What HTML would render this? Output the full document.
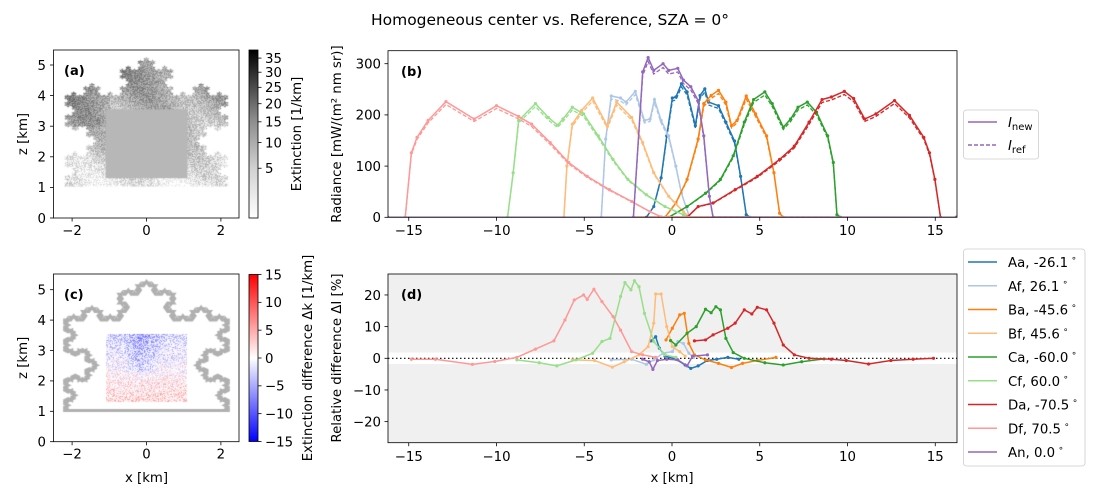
<!DOCTYPE html>
<html><head><meta charset="utf-8">
<style>
html,body{margin:0;padding:0;background:#fff;}
#wrap{position:relative;width:1100px;height:500px;overflow:hidden;font-family:"DejaVu Sans","Liberation Sans",sans-serif;}
canvas{position:absolute;}
svg{position:absolute;left:0;top:0;}
text{font-family:"DejaVu Sans","Liberation Sans",sans-serif;fill:#000;}
</style></head>
<body>
<div id="wrap">
<canvas id="ca" width="185" height="168" style="left:54px;top:50px"></canvas>
<canvas id="cc" width="185" height="168" style="left:54px;top:274px"></canvas>
<svg id="svg" width="1100" height="500" viewBox="0 0 1100 500">
<defs>
<linearGradient id="gGray" x1="0" y1="1" x2="0" y2="0">
<stop offset="0" stop-color="#fff"/><stop offset="0.3" stop-color="#d0d0d0"/><stop offset="0.6" stop-color="#888"/><stop offset="1" stop-color="#000"/>
</linearGradient>
<linearGradient id="gBwr" x1="0" y1="1" x2="0" y2="0">
<stop offset="0" stop-color="#0000ff"/><stop offset="0.5" stop-color="#ffffff"/><stop offset="1" stop-color="#ff0000"/>
</linearGradient>
<clipPath id="clipB"><rect x="388" y="50.7" width="569" height="166.6"/></clipPath>
<clipPath id="clipD"><rect x="388" y="274" width="569" height="168.7"/></clipPath>
</defs>
<text x="550" y="25" font-size="15.5" text-anchor="middle">Homogeneous center vs. Reference, SZA = 0°</text>
</svg>
</div>
<script>
// ---------- data: panel (b) radiance ----------
const seriesNames = ["Aa","Af","Ba","Bf","Ca","Cf","Da","Df","An"];
const seriesLabels = ["Aa, -26.1","Af, 26.1","Ba, -45.6","Bf, 45.6","Ca, -60.0","Cf, 60.0","Da, -70.5","Df, 70.5","An, 0.0"];
const seriesColors = ["#1f77b4","#aec7e8","#ff7f0e","#ffbb78","#2ca02c","#98df8a","#d62728","#ff9896","#9467bd"];

const radAa_x = [-16.2,-1.46,-1.04,-0.62,-0.30,0.02,0.22,0.54,0.86,1.33,1.60,1.87,2.08,2.65,3.07,3.56,3.91,4.23,4.44,16.2];
const radAa_y = [0,0,21,77,159,233,235,261,245,179,238,251,225,218,186,149,80,5,0,0];
const radAf_x = [-16.2,-4.03,-3.78,-3.46,-2.93,-2.62,-2.09,-1.57,-1.25,-1.0,-0.62,-0.19,0.22,0.54,1.0,16.2];
const radAf_y = [0,0,153,237,233,225,246,189,192,230,189,159,100,47,0,0];
const radBa_x = [-16.2,-0.40,0.22,0.86,1.49,1.81,2.23,2.65,3.07,3.39,3.70,4.23,4.76,5.39,5.81,6.13,6.34,16.2];
const radBa_y = [0,0,28,74,153,222,238,248,225,179,189,237,202,159,87,8,0,0];
const radBf_x = [-16.2,-6.16,-5.99,-5.68,-5.15,-4.52,-3.68,-3.15,-2.30,-1.67,-1.04,-0.19,0.65,1.0,16.2];
const radBf_y = [0,0,100,182,209,233,178,225,195,146,87,41,11,0,0];
const radCa_x = [-16.2,-0.19,0.86,1.91,2.76,3.49,4.12,4.65,5.29,5.71,6.34,6.76,7.18,7.71,8.24,8.87,9.19,9.40,9.61,16.2];
const radCa_y = [0,0,21,47,74,120,186,230,245,222,176,192,215,225,205,159,107,5,0,0];
const radCf_x = [-16.2,-9.37,-9.05,-8.74,-7.78,-7.05,-6.52,-6.21,-5.68,-5.04,-4.20,-3.36,-2.51,-1.46,-0.40,0.65,1.0,16.2];
const radCf_y = [0,0,87,189,222,195,180,192,215,202,159,113,74,44,21,5,0,0];
const radDa_x = [-16.2,0.86,1.49,2.34,3.60,4.86,6.13,6.97,7.81,8.55,9.08,9.82,10.35,10.98,11.62,12.68,13.53,14.35,14.67,14.98,15.30,16.2];
const radDa_y = [0,0,21,28,54,80,113,139,186,230,235,246,232,192,202,228,199,156,126,74,0,0];
const radDf_x = [-16.2,-15.2,-14.85,-14.53,-13.9,-12.88,-11.27,-10.0,-8.74,-8.0,-6.94,-5.89,-4.83,-3.57,-2.30,-1.25,-0.62,16.2];
const radDf_y = [0,0,126,156,189,226,192,218,197,182,146,107,80,54,31,11,1,0];
const radAn_x = [-16.2,-2.20,-1.67,-1.36,-1.04,-0.51,-0.19,0.33,0.65,1.07,1.49,1.81,2.13,2.34,16.2];
const radAn_y = [0,0,284,312,287,300,287,291,268,255,228,159,41,0,0];

// ---------- data: panel (d) relative difference ----------
const relAa_x = [-1.20,-0.93,-0.72,-0.40,0.22,0.75,1.07,1.49,2.02,2.55,3.18,3.81];
const relAa_y = [5.5,6.8,3.2,0.7,-0.3,-2.1,-3.2,-2.4,-0.7,-0.3,0.3,-0.3];
const relAf_x = [-3.46,-2.30,-1.46,-1.04,-0.51,0.02,0.33,0.65,0.96,1.24];
const relAf_y = [-0.5,-0.3,-1.9,-0.5,1.6,2.1,5.3,4.7,1.6,0.3];
const relBa_x = [-0.34,0.02,0.44,0.70,0.96,1.28,1.91,2.65,3.39,4.02,4.86,5.92];
const relBa_y = [5.8,9.5,13.7,14.2,4.7,1.1,-0.5,-1.6,-2.9,-1.6,-0.7,0.3];
const relBf_x = [-5.68,-4.41,-3.40,-2.72,-1.88,-1.36,-1.04,-0.93,-0.62,-0.30,0.02,0.44,0.75];
const relBf_y = [-0.5,-0.7,-2.8,-1.1,1.1,3.7,11.1,20.3,20.3,10,3.7,2.1,0.7];
const relCa_x = [-0.08,0.22,0.86,1.38,1.91,2.23,2.50,2.76,3.07,3.49,4.12,5.29,6.34,7.39,8.66];
const relCa_y = [5.6,4.2,7.9,10,15.5,14.4,16.3,15.3,6.3,1.8,0,-1.4,-2.1,-1.1,-0.2];
const relCf_x = [-8.84,-7.57,-6.56,-5.47,-4.52,-3.99,-3.53,-2.93,-2.68,-2.34,-2.14,-1.88,-1.57,-1.04,-0.40,0.22];
const relCf_y = [-0.5,-1.4,-2.4,-0.5,1.6,5.3,6.3,19.5,23.9,21.6,24.5,22.6,14.2,5.3,1.1,0.3];
const relDa_x = [1.28,1.91,2.34,3.18,3.60,4.12,4.55,4.86,5.39,5.81,6.34,6.97,7.81,9.08,9.93,11.2,12.47,13.74,14.9];
const relDa_y = [5.5,5.8,7.4,9.5,11.1,15.3,14,16.1,15.3,11.1,4.2,1.1,0,-0.3,-0.7,-1.8,-0.7,-0.3,0];
const relDf_x = [-14.85,-13.48,-11.37,-10.1,-8.84,-7.78,-6.73,-6.10,-5.57,-5.04,-4.83,-4.45,-3.99,-3.36,-2.93,-2.30,-1.67,-0.93];
const relDf_y = [-0.3,-0.3,-1.9,-1.0,0.3,2.9,5.5,12.1,18.4,20,18.6,21.8,17.9,13.2,8.9,2.1,1.1,0.3];
const relAn_x = [-1.67,-1.30,-1.09,-0.83,-0.30,0.33,0.86,1.17,2.02];
const relAn_y = [-0.3,-1.1,-3.5,-0.7,-0.3,-0.5,-2.4,0.7,1.1];

// ---------- tick labels ----------
const xTicksBD = [-15,-10,-5,0,5,10,15];
const yTicksB = [0,100,200,300];
const yTicksD = [-20,-10,0,10,20];
const xTicksAC = [-2,0,2];
const zTicksAC = [0,1,2,3,4,5];
const cbTicksA = [5,10,15,20,25,30,35];
const cbTicksC = [-15,-10,-5,0,5,10,15];

const radX = [radAa_x,radAf_x,radBa_x,radBf_x,radCa_x,radCf_x,radDa_x,radDf_x,radAn_x];
const radY = [radAa_y,radAf_y,radBa_y,radBf_y,radCa_y,radCf_y,radDa_y,radDf_y,radAn_y];
const relX = [relAa_x,relAf_x,relBa_x,relBf_x,relCa_x,relCf_x,relDa_x,relDf_x,relAn_x];
const relY = [relAa_y,relAf_y,relBa_y,relBf_y,relCa_y,relCf_y,relDa_y,relDf_y,relAn_y];

// ---------- scales ----------
const xBD = v => 672 + 17.55*v;
const yB = v => 217.3 - 0.512*v;
const yD = v => 358.3 - 3.167*v;
const xAC = v => 146.5 + 37.2*v;
const zA = v => 218 - 30.6*v;
const zC = v => 441.7 - 30.4*v;
const cbA = v => 218 - 168*Math.pow(v/38, 0.6);
const cbC = v => 358 - 83.5*v/15;

const NS = "http://www.w3.org/2000/svg";
const svg = document.getElementById("svg");
function el(tag, attrs, parent){
  const e = document.createElementNS(NS, tag);
  for (const k in attrs) e.setAttribute(k, attrs[k]);
  (parent||svg).appendChild(e);
  return e;
}
function txt(x,y,s,size,anchor,parent){
  const t = el("text",{x:x,y:y,"font-size":size,"text-anchor":anchor||"middle"},parent);
  t.textContent = s;
  return t;
}

// ---------- Koch shape ----------
function koch(p,q,n,s,out){
  if(n===0){out.push(q);return;}
  const dx=(q[0]-p[0])/3, dy=(q[1]-p[1])/3;
  const a=[p[0]+dx,p[1]+dy], b=[p[0]+2*dx,p[1]+2*dy];
  const mx=p[0]+1.5*dx, my=p[1]+1.5*dy;
  const h=Math.sqrt(3)/2*s;
  const c=[mx-dy*h, my+dx*h];
  koch(p,a,n-1,s,out);koch(a,c,n-1,s,out);koch(c,b,n-1,s,out);koch(b,q,n-1,s,out);
}
const shape=[[-2.2,4.0]];
koch([-2.2,4.0],[2.2,4.0],4,1,shape);
koch([2.2,4.0],[2.2,1.03],4,-1,shape);
shape.push([-2.2,1.03]);
koch([-2.2,1.03],[-2.2,4.0],4,-1,shape);

function shapePath(ctx,ox,oy,zf){
  ctx.beginPath();
  shape.forEach((p,i)=>{const X=xAC(p[0])-ox,Y=zf(p[1])-oy; if(i)ctx.lineTo(X,Y);else ctx.moveTo(X,Y);});
  ctx.closePath();
}
let seed=12345;
function rnd(){seed=(seed*1103515245+12345)&0x7fffffff;return seed/0x7fffffff;}

// panel a texture
(function(){
  const c=document.getElementById("ca"),ctx=c.getContext("2d");
  const off=document.createElement("canvas");off.width=185;off.height=168;
  const o=off.getContext("2d"),img=o.createImageData(185,168);
  for(let y=0;y<168;y++)for(let x=0;x<185;x++){
    const X=(x+54-146.5)/37.2, Z=(218-(y+50))/30.6;
    let d=15+80*(Z-1)/3.5 + (X<-1?25:0)*(Z>3?1:0.3) + (rnd()-0.5)*70 + 20*Math.sin(X*3+Z*2);
    d=Math.max(0,Math.min(200,d));
    const g=255-d,i=(y*185+x)*4;
    img.data[i]=img.data[i+1]=img.data[i+2]=g;img.data[i+3]=255;
  }
  o.putImageData(img,0,0);
  ctx.save();shapePath(ctx,54,50,zA);ctx.clip();ctx.drawImage(off,0,0);ctx.restore();
  ctx.fillStyle="#b7b7b7";
  ctx.fillRect(xAC(-1.1)-54,zA(3.55)-50,xAC(1.1)-xAC(-1.1),zA(1.3)-zA(3.55));
})();
// panel c texture
(function(){
  const c=document.getElementById("cc"),ctx=c.getContext("2d");
  ctx.strokeStyle="#b0b0b0";ctx.lineWidth=3;
  shapePath(ctx,54,274,zC);ctx.stroke();
  const x0=Math.round(xAC(-1.1)-54),x1=Math.round(xAC(1.1)-54),y0=Math.round(zC(3.55)-274),y1=Math.round(zC(1.3)-274);
  const img=ctx.createImageData(x1-x0,y1-y0);
  for(let y=0;y<y1-y0;y++)for(let x=0;x<x1-x0;x++){
    const f=y/(y1-y0);
    let v=-3+6*f+(rnd()-0.5)*7+ (f<0.55? -3*Math.exp(-Math.pow((x-35)/15,2)):0);
    if(rnd()<0.25) v*=0.2;
    v=Math.max(-15,Math.min(15,v))/15;
    let r,g,b;
    if(v<0){r=Math.max(0,Math.round(255*(1+v*1.0)));g=r;b=255;}
    else{r=255;g=b=Math.max(0,Math.round(255*(1-v*1.0)));}
    const i=(y*(x1-x0)+x)*4;img.data[i]=r;img.data[i+1]=g;img.data[i+2]=b;img.data[i+3]=255;
  }
  ctx.putImageData(img,x0,y0);
})();

// ---------- panel a / c axes ----------
function acAxes(top,bot,zf,lbl,nameP){
  const g=el("g",{});
  
  
  xTicksAC.forEach(v=>{
    el("line",{x1:xAC(v),x2:xAC(v),y1:bot,y2:bot+3.5,stroke:"#000","stroke-width":0.8},g);
    txt(xAC(v),bot+17,v<0?"\u2212"+(-v):String(v),13.3,"middle",g);
  });
  zTicksAC.forEach(v=>{
    el("line",{x1:50,x2:53.5,y1:zf(v),y2:zf(v),stroke:"#000","stroke-width":0.8},g);
    txt(46,zf(v)+4.8,String(v),13.3,"end",g);
  });
  el("rect",{x:53.5,y:top,width:185.5,height:bot-top,fill:"none",stroke:"#000","stroke-width":0.8},g);
  const t=txt(64,top+25,lbl,13,"start",g);t.setAttribute("font-weight","bold");
  const zl=txt(0,0,"z [km]",13.3,"middle",g);zl.setAttribute("transform","translate(27,"+((top+bot)/2)+") rotate(-90)");
}
acAxes(50,218,zA,"(a)","panel-a");
acAxes(274,441.7,zC,"(c)","panel-c");
{const t=txt(146.5,482,"x [km]",13.3,"middle");

}

// colorbars
{
  const g=el("g",{});
  
  
  el("rect",{x:249,y:50,width:9,height:168,fill:"url(#gGray)",stroke:"#000","stroke-width":0.8},g);
  cbTicksA.forEach(v=>{el("line",{x1:258,x2:261.5,y1:cbA(v),y2:cbA(v),stroke:"#000","stroke-width":0.8},g);txt(265,cbA(v)+4.8,String(v),13.3,"start",g);});
  const l=txt(0,0,"Extinction [1/km]",13.3,"middle",g);l.setAttribute("transform","translate(301,134) rotate(-90)");
  const g2=el("g",{});
  
  
  el("rect",{x:249,y:274.5,width:9,height:167,fill:"url(#gBwr)",stroke:"#000","stroke-width":0.8},g2);
  cbTicksC.forEach(v=>{el("line",{x1:258,x2:261.5,y1:cbC(v),y2:cbC(v),stroke:"#000","stroke-width":0.8},g2);txt(265,cbC(v)+4.8,v<0?"\u2212"+(-v):String(v),13.3,"start",g2);});
  const l2=txt(0,0,"Extinction difference \u0394k [1/km]",13.3,"middle",g2);l2.setAttribute("transform","translate(312,358) rotate(-90)");
}

// ---------- panel b ----------
function seriesPath(xs,ys,yf){return xs.map((x,i)=>(i?"L":"M")+xBD(x).toFixed(2)+","+yf(ys[i]).toFixed(2)).join("");}
{
  const g=el("g",{});
  
  
  const pg=el("g",{"clip-path":"url(#clipB)"},g);
  seriesNames.forEach((n,k)=>{
    const ref=el("path",{d:seriesPath(radX[k],radY[k].map(v=>v*0.975),yB),fill:"none",stroke:seriesColors[k],"stroke-width":1.3,"stroke-dasharray":"4,2"},pg);
    
    
    const p=el("path",{d:seriesPath(radX[k],radY[k],yB),fill:"none",stroke:seriesColors[k],"stroke-width":1.5},pg);
    
    
    radX[k].forEach((x,i)=>{
      const c=el("circle",{cx:xBD(x),cy:yB(radY[k][i]),r:1.6,fill:seriesColors[k]},pg);
      
      
    });
  });
  el("rect",{x:388,y:50.7,width:569,height:166.6,fill:"none",stroke:"#000","stroke-width":0.8},g);
  xTicksBD.forEach(v=>{el("line",{x1:xBD(v),x2:xBD(v),y1:217.3,y2:220.8,stroke:"#000","stroke-width":0.8},g);txt(xBD(v),235,v<0?"\u2212"+(-v):String(v),13.3,"middle",g);});
  yTicksB.forEach(v=>{el("line",{x1:384.5,x2:388,y1:yB(v),y2:yB(v),stroke:"#000","stroke-width":0.8},g);txt(381,yB(v)+4.8,String(v),13.3,"end",g);});
  const t=txt(401,76,"(b)",13,"start",g);t.setAttribute("font-weight","bold");
  const yl=txt(0,0,"Radiance [mW/(m\u00b2 nm sr)]",13.3,"middle",g);yl.setAttribute("transform","translate(341,134) rotate(-90)");
  // legend
  const lg=el("g",{});
  
  
  el("rect",{x:963.5,y:110,width:75,height:49,rx:3,fill:"#fff",stroke:"#ccc","stroke-width":0.8},lg);
  el("line",{x1:968,x2:997,y1:122,y2:122,stroke:"#9467bd","stroke-width":1.5},lg);
  el("line",{x1:968,x2:997,y1:145,y2:145,stroke:"#9467bd","stroke-width":1.5,"stroke-dasharray":"4,2"},lg);
  const t1=el("text",{x:1008,y:127,"font-size":13.3},lg);t1.innerHTML='<tspan font-style="italic">I</tspan><tspan font-size="10" dy="3">new</tspan>';
  const t2=el("text",{x:1008,y:150,"font-size":13.3},lg);t2.innerHTML='<tspan font-style="italic">I</tspan><tspan font-size="10" dy="3">ref</tspan>';
}

// ---------- panel d ----------
{
  const g=el("g",{});
  
  
  el("rect",{x:388,y:274,width:569,height:168.7,fill:"#f0f0f0"},g);
  el("rect",{x:388,y:yD(1.8),width:569,height:yD(-1.8)-yD(1.8),fill:"#fff"},g);
  const pg=el("g",{"clip-path":"url(#clipD)"},g);
  el("line",{x1:388,x2:957,y1:yD(0),y2:yD(0),stroke:"#000","stroke-width":1.2,"stroke-dasharray":"1.5,2.5"},pg);
  seriesNames.forEach((n,k)=>{
    const p=el("path",{d:seriesPath(relX[k],relY[k],yD),fill:"none",stroke:seriesColors[k],"stroke-width":1.5},pg);
    
    
    relX[k].forEach((x,i)=>{
      const c=el("circle",{cx:xBD(x),cy:yD(relY[k][i]),r:1.6,fill:seriesColors[k]},pg);
      
      
    });
  });
  el("rect",{x:388,y:274,width:569,height:168.7,fill:"none",stroke:"#000","stroke-width":0.8},g);
  xTicksBD.forEach(v=>{el("line",{x1:xBD(v),x2:xBD(v),y1:442.7,y2:446.2,stroke:"#000","stroke-width":0.8},g);txt(xBD(v),461,v<0?"\u2212"+(-v):String(v),13.3,"middle",g);});
  yTicksD.forEach(v=>{el("line",{x1:384.5,x2:388,y1:yD(v),y2:yD(v),stroke:"#000","stroke-width":0.8},g);txt(381,yD(v)+4.8,v<0?"\u2212"+(-v):String(v),13.3,"end",g);});
  const t=txt(401,299,"(d)",13,"start",g);t.setAttribute("font-weight","bold");
  const yl=txt(0,0,"Relative difference \u0394I [%]",13.3,"middle",g);yl.setAttribute("transform","translate(341,358) rotate(-90)");
  txt(672,482,"x [km]",13.3,"middle",g);
  // legend
  const lg=el("g",{});
  
  
  el("rect",{x:963.5,y:249,width:121.5,height:217,rx:3,fill:"#fff",stroke:"#ccc","stroke-width":0.8},lg);
  seriesLabels.forEach((s,k)=>{
    const y=262+k*23.75;
    const e=el("g",{},lg);
    
    
    el("line",{x1:968,x2:997,y1:y,y2:y,stroke:seriesColors[k],"stroke-width":1.5},e);
    const t=el("text",{x:1008,y:y+5,"font-size":13.3},e);
    t.innerHTML=s+'<tspan font-size="9" dy="-6" dx="3">\u2218</tspan>';
  });
}
</script>
</body></html>
